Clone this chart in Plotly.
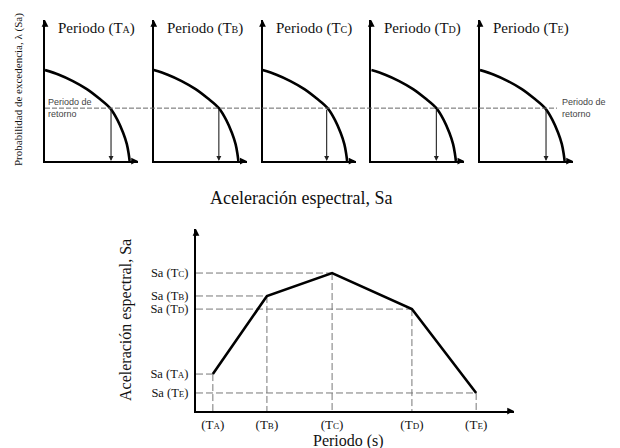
import plotly.graph_objects as go

# ---------------- data ----------------
PANELS = ["A", "B", "C", "D", "E"]
# hazard curve (same schematic shape in every panel): Sa vs exceedance probability
HAZ_SA = [0.00, 0.15, 0.30, 0.45, 0.58, 0.70, 0.78, 0.84, 0.88, 0.90, 0.91]
HAZ_LAMBDA = [0.645, 0.612, 0.567, 0.510, 0.445, 0.375, 0.290, 0.200, 0.120, 0.050, 0.0]
RETURN_LAMBDA = 0.375
SA_AT_RETURN = [0.71, 0.70, 0.69, 0.70, 0.71]

# resulting uniform hazard spectrum
PERIODS = [0.053, 0.223, 0.428, 0.679, 0.881]
SPECTRAL_SA = [0.203, 0.632, 0.758, 0.560, 0.099]

SERIF = "Liberation Serif"
SANS = "Liberation Sans"
W, H = 620, 448


def px(x):
    return x / W


def py(y):
    return 1 - y / H


def sub(letter, size):
    return f"T<span style='font-size:{size}px'>{letter}</span>"


fig = go.Figure()
layout = {}
annotations = []
shapes = []

axis_common = dict(range=[0, 1], showline=True, linecolor="black", linewidth=2,
                   showgrid=False, zeroline=False, fixedrange=True)

# ---------------- top panels ----------------
for i, p in enumerate(PANELS):
    n = i + 1
    s = "" if n == 1 else str(n)
    xa, ya = "x" + s, "y" + s
    x0 = 45 + i * 108.75
    layout["xaxis" + s] = dict(domain=[px(x0), px(x0 + 93)], anchor=ya,
                               showticklabels=False, ticks="", **axis_common)
    layout["yaxis" + s] = dict(domain=[py(161), py(20)], anchor=xa,
                               showticklabels=False, ticks="", **axis_common)
    fig.add_trace(go.Scatter(x=HAZ_SA, y=HAZ_LAMBDA, xaxis=xa, yaxis=ya, mode="lines",
                             line=dict(color="black", width=2.6, shape="spline"),
                             hoverinfo="skip", showlegend=False))
    # vertical arrow from return level down to Sa
    annotations.append(dict(x=SA_AT_RETURN[i], y=0, ax=SA_AT_RETURN[i], ay=RETURN_LAMBDA,
                            xref=xa, yref=ya, axref=xa, ayref=ya, text="", showarrow=True,
                            arrowhead=2, arrowsize=0.9, arrowwidth=1.1, arrowcolor="#222"))
    # axis arrowheads
    annotations.append(dict(x=1, y=0, xref=xa, yref=ya, ax=-8, ay=0, text="", showarrow=True,
                            arrowhead=2, arrowsize=0.9, arrowwidth=1.5, arrowcolor="black"))
    annotations.append(dict(x=0, y=1, xref=xa, yref=ya, ax=0, ay=8, text="", showarrow=True,
                            arrowhead=2, arrowsize=0.9, arrowwidth=1.5, arrowcolor="black"))
    # titles
    annotations.append(dict(x=0.12, y=0.943, xref=xa, yref=ya, xanchor="left", yanchor="middle",
                            text="Periodo (" + sub(p, 10) + ")", showarrow=False,
                            font=dict(family=SERIF, size=15, color="#111")))
    annotations.append(dict(x=0.6, y=-0.08, xref=xa, yref=ya, xanchor="center", yanchor="middle",
                            text="Sa (" + sub(p, 10) + ")", showarrow=False,
                            font=dict(family=SERIF, size=14, color="#111")))

# return-period line across all panels
shapes.append(dict(type="line", xref="paper", yref="y", x0=px(45), x1=px(557),
                   y0=RETURN_LAMBDA, y1=RETURN_LAMBDA,
                   line=dict(color="#666", width=1, dash="5px,2px")))
annotations.append(dict(x=px(46), y=RETURN_LAMBDA, xref="paper", yref="y", xanchor="left",
                        yanchor="middle", align="left", text="Periodo de<br>retorno",
                        showarrow=False, font=dict(family=SANS, size=9, color="#444")))
annotations.append(dict(x=px(560), y=RETURN_LAMBDA, xref="paper", yref="y5", xanchor="left",
                        yanchor="middle", align="left", text="Periodo de<br>retorno",
                        showarrow=False, font=dict(family=SANS, size=9, color="#444")))

annotations.append(dict(x=px(18), y=py(90), xref="paper", yref="paper", textangle=-90,
                        xanchor="center", yanchor="middle",
                        text="Probabilidad de excedencia, λ (Sa)", showarrow=False,
                        font=dict(family=SERIF, size=11, color="#111")))
annotations.append(dict(x=px(301), y=py(198), xref="paper", yref="paper",
                        xanchor="center", yanchor="middle",
                        text="Aceleración espectral, Sa", showarrow=False,
                        font=dict(family=SERIF, size=18, color="#111")))

# ---------------- bottom spectrum ----------------
layout["xaxis6"] = dict(domain=[px(196), px(514)], anchor="y6",
                        tickvals=PERIODS, ticktext=["(" + sub(p, 9) + ")" for p in PANELS],
                        ticks="", ticklabelstandoff=0,
                        tickfont=dict(family=SERIF, size=13, color="#111"), **axis_common)
layout["yaxis6"] = dict(domain=[py(411), py(229)], anchor="x6",
                        tickvals=SPECTRAL_SA, ticktext=["Sa (" + sub(p, 9) + ")" for p in PANELS],
                        ticks="", ticklabelstandoff=3,
                        tickfont=dict(family=SERIF, size=12.5, color="#111"), **axis_common)

hx, hy = [], []
for t, s in zip(PERIODS, SPECTRAL_SA):
    hx += [0, t, None, t, t, None]
    hy += [s, s, None, s, 0, None]
fig.add_trace(go.Scatter(x=hx, y=hy, xaxis="x6", yaxis="y6", mode="lines",
                         line=dict(color="#777", width=1, dash="7px,3px"),
                         hoverinfo="skip", showlegend=False))
fig.add_trace(go.Scatter(x=PERIODS, y=SPECTRAL_SA, xaxis="x6", yaxis="y6", mode="lines",
                         line=dict(color="black", width=2.6),
                         hoverinfo="skip", showlegend=False))
annotations.append(dict(x=1, y=0, xref="x6", yref="y6", ax=-8, ay=0, text="", showarrow=True,
                        arrowhead=2, arrowsize=0.9, arrowwidth=1.5, arrowcolor="black"))
annotations.append(dict(x=0, y=1, xref="x6", yref="y6", ax=0, ay=8, text="", showarrow=True,
                        arrowhead=2, arrowsize=0.9, arrowwidth=1.5, arrowcolor="black"))
annotations.append(dict(x=px(348), y=py(441), xref="paper", yref="paper",
                        xanchor="center", yanchor="middle",
                        text="Periodo (s)", showarrow=False,
                        font=dict(family=SERIF, size=16, color="#111")))
annotations.append(dict(x=px(126), y=py(320), xref="paper", yref="paper", textangle=-90,
                        xanchor="center", yanchor="middle",
                        text="Aceleración espectral, Sa", showarrow=False,
                        font=dict(family=SERIF, size=16, color="#111")))

fig.update_layout(width=W, height=H, margin=dict(l=0, r=0, t=0, b=0),
                  paper_bgcolor="white", plot_bgcolor="rgba(0,0,0,0)",
                  showlegend=False, annotations=annotations, shapes=shapes, **layout)

fig.write_html("out.html", config={"displayModeBar": False})
